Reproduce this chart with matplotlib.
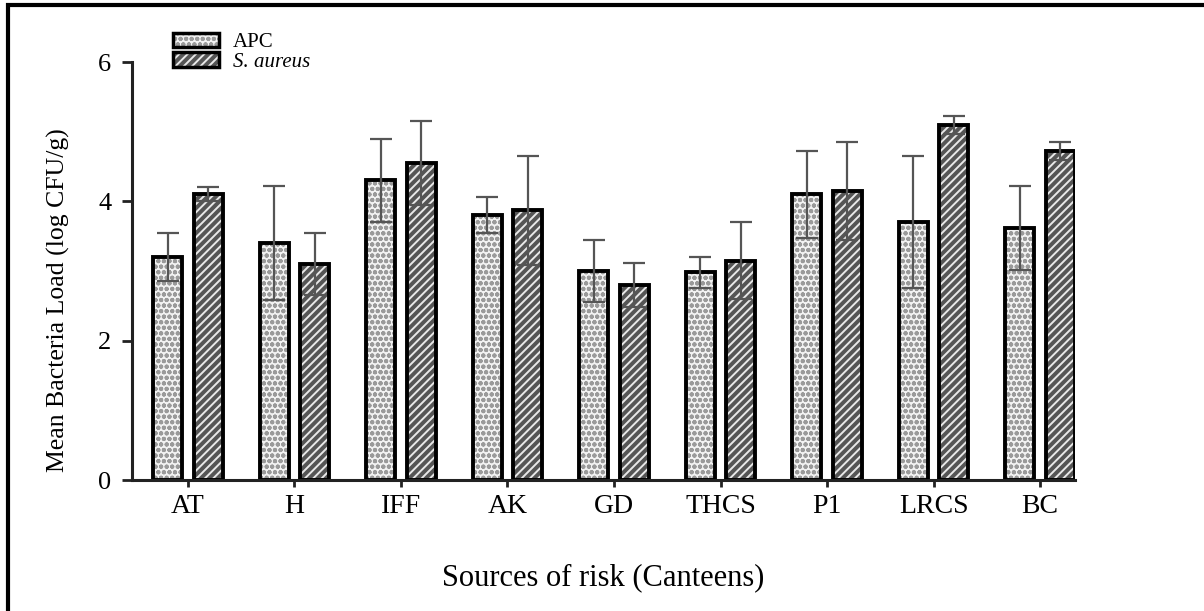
import numpy as np
import matplotlib
matplotlib.use("Agg")
import matplotlib.pyplot as plt
from matplotlib.patches import Rectangle

# data
canteens = ["AT", "H", "IFF", "AK", "GD", "THCS", "P1", "LRCS", "BC"]
apc_mean = [3.20, 3.40, 4.30, 3.80, 3.00, 2.98, 4.10, 3.70, 3.62]
apc_err = [0.35, 0.82, 0.60, 0.26, 0.45, 0.22, 0.62, 0.95, 0.60]
sa_mean = [4.10, 3.10, 4.55, 3.87, 2.80, 3.15, 4.15, 5.10, 4.72]
sa_err = [0.10, 0.45, 0.60, 0.78, 0.32, 0.55, 0.70, 0.13, 0.13]

plt.rcParams['font.family'] = ['Liberation Serif', 'DejaVu Serif']
plt.rcParams['hatch.linewidth'] = 1.4

fig = plt.figure(figsize=(12.04, 6.11), dpi=100)
ax = fig.add_axes([0.1096, 0.2144, 0.7834, 0.6841])

x = np.arange(len(canteens))
w = 0.27
off = 0.19

# hatched fill first (hatch colour = edgecolor), then a black outline on top
ax.bar(x - off, apc_mean, w, color='#f2f2f2', edgecolor='#9a9a9a', linewidth=0,
       hatch='ooo', zorder=2)
ax.bar(x - off, apc_mean, w, fill=False, edgecolor='black', linewidth=2.8, zorder=2.5)
ax.bar(x + off, sa_mean, w, color='#555555', edgecolor='#e8e8e8', linewidth=0,
       hatch='////', zorder=2)
ax.bar(x + off, sa_mean, w, fill=False, edgecolor='black', linewidth=2.8, zorder=2.5)

# legend proxies: hatched patch with a black frame over it
apc_h = (Rectangle((0, 0), 1, 1, facecolor='#f2f2f2', edgecolor='#9a9a9a',
                   hatch='ooo', linewidth=0),
         Rectangle((0, 0), 1, 1, fill=False, edgecolor='black', linewidth=2.5))
sa_h = (Rectangle((0, 0), 1, 1, facecolor='#555555', edgecolor='#e8e8e8',
                  hatch='////', linewidth=0),
        Rectangle((0, 0), 1, 1, fill=False, edgecolor='black', linewidth=2.5))

ax.errorbar(x - off, apc_mean, yerr=apc_err, fmt='none', ecolor='#555555',
            elinewidth=1.6, capsize=8, capthick=1.6, zorder=3)
ax.errorbar(x + off, sa_mean, yerr=sa_err, fmt='none', ecolor='#555555',
            elinewidth=1.6, capsize=8, capthick=1.6, zorder=3)

ax.set_xlim(-0.526, 8.33)
ax.set_ylim(0, 6)
ax.set_yticks([0, 2, 4, 6])
ax.set_xticks(x)
ax.set_xticklabels(canteens)
ax.tick_params(axis='y', labelsize=19, width=2, length=7, color='#222222', pad=8)
ax.tick_params(axis='x', labelsize=20, width=2, length=5, color='#222222', pad=5)
for s in ['top', 'right']:
    ax.spines[s].set_visible(False)
for s in ['left', 'bottom']:
    ax.spines[s].set_linewidth(2.2)
    ax.spines[s].set_color('#222222')

ax.set_ylabel('Mean Bacteria Load (log CFU/g)', fontsize=18.5)
ax.yaxis.set_label_coords(-0.066, 0.43)
ax.set_xlabel('Sources of risk (Canteens)', fontsize=22, labelpad=32)

leg = fig.legend([apc_h, sa_h], ['APC', 'S. aureus'], loc='upper left',
                 bbox_to_anchor=(0.128, 0.977), frameon=False,
                 fontsize=15, handlelength=2.2, handleheight=0.7,
                 labelspacing=0.0, handletextpad=0.7)
leg.get_texts()[1].set_style('italic')

# outer frame of the figure panel
fig.patches.append(Rectangle((8 / 1204, -0.1), 1.1, 1.1 - 5 / 611,
                             transform=fig.transFigure, fill=False,
                             edgecolor='black', linewidth=3))

fig.savefig('out.png', dpi=100)
